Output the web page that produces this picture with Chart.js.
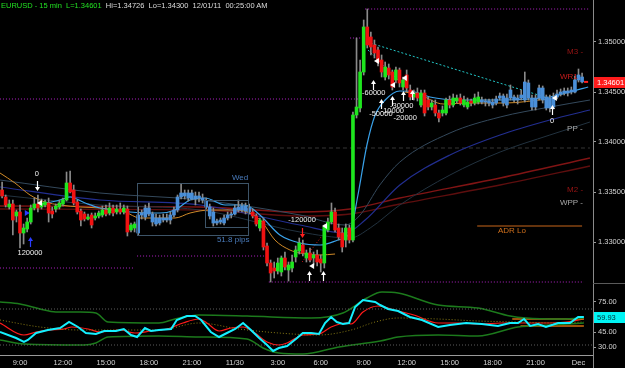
<!DOCTYPE html>
<html>
<head>
<meta charset="utf-8">
<script src="https://cdn.jsdelivr.net/npm/chart.js@4.4.0/dist/chart.umd.min.js"></script>
<style>
  html, body { margin: 0; padding: 0; background: #000; }
  #wrap { position: relative; width: 625px; height: 368px; background: #000; overflow: hidden; }
  #price { position: absolute; left: 0; top: 0; }
  #osc { position: absolute; left: 0; top: 283px; }
  #title { position: absolute; left: 1px; top: 1px; font: 7.5px "Liberation Sans", Arial, sans-serif; white-space: pre; color: #dcdcdc; }
  #title .sym { color: #22e022; }
</style>
</head>
<body>
<div id="wrap">
  <canvas id="price" width="625" height="283"></canvas>
  <canvas id="osc" width="625" height="85"></canvas>
  <div id="title"><span class="sym">EURUSD - 15 min  L=1.34601</span>  Hi=1.34726  Lo=1.34300  12/01/11  00:25:00 AM</div>
</div>
<script>
// 15 min bars, 29 Nov 07:30 -> 1 Dec 00:15 (index 0..163)
const opens = [
  1.3347,1.3352,1.3345,1.3335,1.3338,1.3326,1.3330,1.3309,1.3313,1.3320,
  1.3334,1.3338,1.3335,1.3337,1.3339,1.3331,1.3333,1.3335,1.3338,1.3342,
  1.3359,1.3352,1.3340,1.3331,1.3328,1.3323,1.3327,1.3324,1.3326,1.3327,
  1.3332,1.3329,1.3334,1.3330,1.3333,1.3330,1.3333,1.3312,1.3314,1.3309,
  1.3327,1.3325,1.3334,1.3328,1.3324,1.3319,1.3324,1.3322,1.3322,1.3327,
  1.3332,1.3345,1.3349,1.3344,1.3349,1.3343,1.3346,1.3344,1.3341,1.3335,
  1.3330,1.3319,1.3320,1.3319,1.3324,1.3327,1.3328,1.3332,1.3332,1.3336,
  1.3334,1.3330,1.3326,1.3314,1.3321,1.3296,1.3279,1.3274,1.3271,1.3270,
  1.3284,1.3272,1.3274,1.3285,1.3291,1.3297,1.3284,1.3289,1.3284,1.3287,
  1.3283,1.3279,1.3312,1.3320,1.3330,1.3314,1.3309,1.3302,1.3314,1.3302,
  1.3427,1.3434,1.3470,1.3515,1.3505,1.3497,1.3492,1.3482,1.3465,1.3474,
  1.3470,1.3462,1.3472,1.3455,1.3467,1.3452,1.3445,1.3449,1.3437,1.3449,
  1.3442,1.3435,1.3437,1.3429,1.3429,1.3429,1.3442,1.3437,1.3441,1.3444,
  1.3437,1.3435,1.3441,1.3439,1.3440,1.3442,1.3440,1.3441,1.3440,1.3439,
  1.3444,1.3446,1.3437,1.3444,1.3445,1.3442,1.3444,1.3442,1.3459,1.3444,
  1.3435,1.3444,1.3454,1.3445,1.3444,1.3435,1.3445,1.3448,1.3449,1.3449,
  1.3450,1.3450,1.3462,1.3465
];
const highs = [
  1.3356,1.3360,1.3347,1.3342,1.3342,1.3332,1.3337,1.3318,1.3324,1.3337,
  1.3344,1.3347,1.3343,1.3342,1.3344,1.3335,1.3338,1.3342,1.3344,1.3370,
  1.3371,1.3357,1.3342,1.3333,1.3330,1.3328,1.3329,1.3329,1.3331,1.3336,
  1.3337,1.3339,1.3337,1.3337,1.3339,1.3337,1.3336,1.3319,1.3320,1.3335,
  1.3332,1.3337,1.3339,1.3330,1.3328,1.3327,1.3328,1.3328,1.3330,1.3335,
  1.3347,1.3358,1.3352,1.3352,1.3352,1.3350,1.3350,1.3348,1.3344,1.3338,
  1.3334,1.3323,1.3324,1.3327,1.3330,1.3330,1.3337,1.3342,1.3339,1.3339,
  1.3338,1.3333,1.3328,1.3324,1.3324,1.3299,1.3282,1.3280,1.3284,1.3286,
  1.3290,1.3280,1.3287,1.3296,1.3304,1.3302,1.3292,1.3294,1.3290,1.3292,
  1.3287,1.3317,1.3324,1.3339,1.3334,1.3318,1.3314,1.3318,1.3317,1.3430,
  1.3504,1.3482,1.3522,1.3533,1.3510,1.3502,1.3495,1.3487,1.3480,1.3478,
  1.3472,1.3475,1.3474,1.3465,1.3472,1.3457,1.3452,1.3454,1.3452,1.3452,
  1.3445,1.3442,1.3442,1.3432,1.3436,1.3444,1.3446,1.3448,1.3447,1.3448,
  1.3446,1.3444,1.3443,1.3448,1.3450,1.3445,1.3443,1.3443,1.3443,1.3446,
  1.3449,1.3448,1.3448,1.3457,1.3447,1.3447,1.3452,1.3470,1.3462,1.3447,
  1.3447,1.3457,1.3456,1.3447,1.3447,1.3449,1.3452,1.3453,1.3454,1.3454,
  1.3455,1.3466,1.3473,1.3469
];
const lows = [
  1.3345,1.3344,1.3335,1.3333,1.3307,1.3320,1.3294,1.3298,1.3310,1.3318,
  1.3332,1.3330,1.3333,1.3335,1.3320,1.3324,1.3330,1.3333,1.3336,1.3341,
  1.3349,1.3337,1.3328,1.3316,1.3321,1.3322,1.3314,1.3322,1.3324,1.3325,
  1.3326,1.3327,1.3326,1.3328,1.3328,1.3328,1.3306,1.3310,1.3310,1.3307,
  1.3323,1.3322,1.3326,1.3316,1.3316,1.3317,1.3320,1.3320,1.3318,1.3325,
  1.3330,1.3343,1.3343,1.3341,1.3342,1.3337,1.3340,1.3339,1.3333,1.3323,
  1.3316,1.3317,1.3318,1.3317,1.3322,1.3324,1.3327,1.3330,1.3330,1.3328,
  1.3328,1.3324,1.3316,1.3311,1.3292,1.3276,1.3260,1.3264,1.3268,1.3266,
  1.3272,1.3261,1.3270,1.3280,1.3288,1.3286,1.3280,1.3280,1.3277,1.3276,
  1.3270,1.3274,1.3310,1.3318,1.3310,1.3302,1.3290,1.3295,1.3299,1.3300,
  1.3424,1.3430,1.3467,1.3494,1.3487,1.3484,1.3476,1.3465,1.3462,1.3463,
  1.3452,1.3459,1.3455,1.3452,1.3450,1.3442,1.3442,1.3441,1.3435,1.3426,
  1.3432,1.3432,1.3426,1.3420,1.3426,1.3427,1.3434,1.3435,1.3439,1.3437,
  1.3435,1.3433,1.3436,1.3437,1.3438,1.3438,1.3436,1.3436,1.3434,1.3437,
  1.3442,1.3436,1.3434,1.3442,1.3440,1.3438,1.3442,1.3440,1.3442,1.3432,
  1.3432,1.3442,1.3439,1.3432,1.3430,1.3433,1.3443,1.3446,1.3447,1.3446,
  1.3448,1.3449,1.3460,1.3459
];
const closes = [
  1.3352,1.3346,1.3337,1.3338,1.3322,1.3330,1.3309,1.3314,1.3320,1.3334,
  1.3338,1.3334,1.3339,1.3340,1.3329,1.3328,1.3336,1.3339,1.3342,1.3359,
  1.3350,1.3339,1.3330,1.3322,1.3323,1.3325,1.3317,1.3326,1.3329,1.3332,
  1.3328,1.3334,1.3329,1.3333,1.3330,1.3334,1.3310,1.3317,1.3318,1.3327,
  1.3329,1.3334,1.3328,1.3320,1.3318,1.3324,1.3322,1.3324,1.3327,1.3332,
  1.3345,1.3349,1.3346,1.3349,1.3343,1.3346,1.3344,1.3342,1.3335,1.3326,
  1.3319,1.3321,1.3322,1.3324,1.3327,1.3328,1.3334,1.3335,1.3336,1.3331,
  1.3330,1.3326,1.3318,1.3322,1.3295,1.3279,1.3269,1.3271,1.3279,1.3284,
  1.3275,1.3277,1.3280,1.3292,1.3299,1.3289,1.3289,1.3282,1.3287,1.3280,
  1.3279,1.3315,1.3320,1.3330,1.3312,1.3305,1.3295,1.3314,1.3302,1.3427,
  1.3435,1.3470,1.3515,1.3497,1.3495,1.3489,1.3480,1.3470,1.3475,1.3467,
  1.3455,1.3472,1.3459,1.3462,1.3454,1.3445,1.3449,1.3444,1.3449,1.3429,
  1.3435,1.3439,1.3429,1.3424,1.3432,1.3442,1.3437,1.3444,1.3444,1.3439,
  1.3442,1.3440,1.3439,1.3444,1.3445,1.3440,1.3441,1.3439,1.3437,1.3443,
  1.3446,1.3439,1.3444,1.3452,1.3442,1.3444,1.3447,1.3460,1.3444,1.3435,
  1.3444,1.3454,1.3442,1.3434,1.3434,1.3445,1.3448,1.3450,1.3451,1.3451,
  1.3452,1.3462,1.3467,1.34601
];
// bars painted in the session colour
const blueSessions = [[39, 70], [135, 163]];

const timeTicks = [6, 18, 30, 42, 54, 66, 78, 90, 102, 114, 126, 138, 150, 162];
const timeLabels = ['9:00', '12:00', '15:00', '18:00', '21:00', '11/30', '3:00', '6:00', '9:00', '12:00', '15:00', '18:00', '21:00', 'Dec'];
const priceTicks = [1.330, 1.335, 1.340, 1.345, 1.350];
const oscTicks = [30, 45, 60, 75];
const lastPrice = 1.34601;
const lastOsc = 59.93;

// moving averages [bar index, price]
const fastMA = [[10.7,1.3337],[17.2,1.3342],[20.0,1.3345],[24.2,1.3339],[28.3,1.3334],[36.7,1.3330],[45.1,1.3329],[49.3,1.3332],[53.5,1.3342],[57.7,1.3344],[63.3,1.3337],[68.8,1.3337],[73.0,1.3327],[78.6,1.3307],[84.2,1.3299],[89.8,1.3297],[94.8,1.3302],[98.2,1.3310],[100.4,1.3347],[102.9,1.3397],[105.2,1.3427],[108.0,1.3442],[112.1,1.3451],[116.3,1.3450],[120.5,1.3445],[128.9,1.3442],[140.1,1.3442],[148.5,1.3443],[154.0,1.3445],[159.6,1.3450],[164.7,1.3455]];
const orangeMA = [[0.4,1.3369],[4.6,1.3359],[8.8,1.3347],[13.0,1.3340],[17.2,1.3337],[22.8,1.3335],[28.3,1.3334],[35.3,1.3330],[39.5,1.3324],[49.3,1.3324],[53.5,1.3329],[59.1,1.3332],[66.0,1.3332],[70.2,1.3329],[73.6,1.3320],[77.2,1.3302],[81.4,1.3292],[84.2,1.3289],[89.8,1.3287],[94.0,1.3288],[104,null],[113.5,1.3450],[117.7,1.3447],[124.2,1.3438],[131.7,1.3439],[141.5,1.3439],[153.5,1.3443]];
const slateMA = [[0.4,1.3362],[28.3,1.3349],[56.3,1.3342],[84.2,1.3327],[96.8,1.3317],[101.0,1.3327],[106.5,1.3357],[112.1,1.3380],[126.1,1.3409],[140.1,1.3425],[154.0,1.3435],[165.2,1.3442]];
const navyMA = [[0.4,1.3355],[28.3,1.3342],[56.3,1.3337],[84.2,1.3317],[96.8,1.3309],[102.4,1.3322],[112.1,1.3357],[126.1,1.3387],[140.1,1.3407],[154.0,1.3422],[165.2,1.3432]];
const greyMA = [[0.4,1.3347],[28.3,1.3337],[56.3,1.3332],[84.2,1.3310],[98.2,1.3304],[103.8,1.3314],[112.1,1.3337],[126.1,1.3367],[140.1,1.3390],[154.0,1.3407],[165.2,1.3420]];
const redMA1 = [[0.4,1.3336],[56.3,1.3335],[84.2,1.3330],[98.2,1.3333],[112.1,1.3344],[140.1,1.3364],[165.2,1.3384]];
const redMA2 = [[0.4,1.3333],[56.3,1.3332],[84.2,1.3326],[98.2,1.3328],[112.1,1.3338],[140.1,1.3357],[165.2,1.3376]];

// levels [from index, to index, price]
const purpleLevels = [[0.4,38.1,1.3274],[38.7,74.4,1.3286],[75.5,163.5,1.3260],[0.4,101.0,1.3443],[102.4,165.2,1.3533],[98.2,101.5,1.3504]];
const ppLevel = [0.4, 165.2, 1.3394];
const adrLevel = [133.7, 163.0, 1.3316];
// trend lines [i0, p0, i1, p1]
const cyanTrends = [[102.9,1.3500,153.5,1.3444],[103.2,1.3492,112.1,1.3460]];
const redTrends = [[84.8,1.3280,92.0,1.3314]];
// session boxes [i0, top price, i1, bottom price]
const sessionBoxes = [[38.7,1.3359,69.7,1.3307],[57.7,1.3342,69.7,1.3315]];

// annotations [index, price, text]
const tradeNotes = [[10.7,1.3368,'0'],[8.8,1.3289,'120000'],[84.8,1.3322,'-120000'],[104.8,1.3449,'-60000'],[106.8,1.3428,'-50000'],[112.6,1.3436,'-30000'],[110.0,1.3431,'-10000'],[113.6,1.3424,'-20000'],[154.6,1.3421,'0']];
const boxNotes = [[65.2,1.3364,'Wed'],[61.0,1.3302,'51.8 pips']];
const redPivots = [[158.8,1.3490,'M3 -'],[156.8,1.3465,'WR1'],[158.8,1.3352,'M2 -']];
const greyPivots = [[158.8,1.3413,'PP -'],[156.8,1.3339,'WPP -']];
const adrNote = [[139.5,1.3311,'ADR Lo']];
const upArrows = [[86.7,1.3266],[90.6,1.3266],[104.6,1.3457],[106.8,1.3438],[109.9,1.3441],[113.0,1.3446],[115.5,1.3447],[154.6,1.3432]];
const downArrows = [[10.7,1.3356]];
const blueUpArrows = [[8.8,1.3300]];
const redDownArrows = [[84.8,1.3309]];
const leftMarks = [[11.6,1.3339],[87.6,1.3276],[91.2,1.3316],[105.7,1.3481],[110.2,1.3457],[113.5,1.3464],[155.4,1.3444]];
const rightMarks = [[7.9,1.3329]];

// oscillator [bar index, value]
const cyanOsc = [[0.4,45],[4.9,39],[7.1,35],[8.2,37],[10.5,44],[13.8,47],[17.2,49],[19.7,55],[22.2,50],[24.4,44],[27.2,43],[29.5,46],[32.8,46],[35.0,48],[37.0,42],[38.7,40],[40.9,49],[42.6,46],[44.8,47],[48.2,48],[49.8,57],[52.6,61],[54.9,61],[56.6,57],[59.3,45],[61.6,40],[63.8,44],[66.1,48],[68.3,54],[70.5,47],[72.8,39],[75.0,32],[76.7,26],[78.3,29],[80.6,31],[83.4,39],[85.0,44],[87.3,44],[89.5,43],[91.2,54],[92.9,60],[94.5,55],[96.2,53],[97.9,54],[99.6,70],[101.8,77],[105.2,75],[106.6,72],[108.8,68],[111.6,66],[114.9,60],[118.3,57],[122.8,50],[126.1,52],[130.6,54],[135.0,53],[139.5,51],[142.9,54],[145.1,54],[146.8,58],[148.5,51],[150.7,53],[152.9,50],[156.3,54],[159.6,54],[161.9,60],[163.5,59.93]];
const redOsc = [[0.4,54],[7.1,42],[10.5,45],[13.8,47],[18.3,48],[20.5,50],[25.0,48],[28.3,45],[33.9,47],[38.1,44],[42.6,46],[47.1,48],[51.5,54],[56.0,58],[58.2,54],[61.6,46],[64.9,49],[68.3,50],[71.6,44],[75.0,35],[78.3,32],[80.6,34],[85.0,42],[89.5,43],[92.9,50],[97.3,54],[98.5,53],[101.8,65],[106.0,71],[110.5,67],[116.0,62],[122.8,54],[128.3,54],[133.9,53],[140.6,54],[147.3,54],[154.0,54],[158.5,55],[163.5,58]];
const signalOsc = [[0.4,57],[11.6,50],[22.8,47],[33.9,47],[44.8,47],[56.0,54],[67.2,48],[78.3,44],[89.5,42],[98.5,47],[105.2,55],[111.6,59],[122.8,58],[133.9,56],[145.1,55],[156.3,54],[163.5,55]];
const bandUpper = [[0.4,75],[6.0,73],[11.6,68],[16.0,65],[22.8,65],[27.2,64],[30.6,55],[44.8,54],[49.3,58],[56.0,62],[69.4,61],[87.3,59],[96.2,64],[102.9,79],[107.1,85],[111.6,84],[122.8,72],[133.9,69],[142.9,61],[147.3,59],[156.3,58],[163.5,59]];
const bandLower = [[0.4,37],[7.1,33],[23.9,32],[27.2,34],[30.6,40],[44.8,41],[56.0,40],[69.4,38],[73.9,29],[78.3,24],[85.0,23],[95.1,30],[106.6,36],[111.6,40],[122.8,42],[133.9,41],[145.1,50],[154.0,52],[163.5,54]];
const oscOrangeLevels = [[143.5,163.5,58],[145.8,163.5,51]];
const oscGuides = [68, 32];

const FONT = '"Liberation Sans", Arial, sans-serif';
const xMin = 0.413, xMax = 166.05;

const idx = closes.map((_, i) => i);
const inSession = i => blueSessions.some(([a, b]) => i >= a && i <= b);
const candleColors = idx.map(i => inSession(i) ? '#4a8fd8' : (closes[i] >= opens[i] ? '#1ee61e' : '#f01212'));

function lineSet(points, color, width, dash, smooth) {
  return {
    type: 'line',
    data: points.map(p => ({ x: p[0], y: p[1] })),
    borderColor: color,
    borderWidth: width,
    borderDash: dash || [],
    pointRadius: 0,
    fill: false,
    spanGaps: false,
    cubicInterpolationMode: smooth ? 'monotone' : 'default',
    tension: 0,
    order: 5
  };
}
function levelSet(lv, color, width, dash) {
  return lineSet([[lv[0], lv[2]], [lv[1], lv[2]]], color, width, dash, false);
}
function trendSet(t, color, dash) {
  return lineSet([[t[0], t[1]], [t[2], t[3]]], color, 1, dash, false);
}

function rightAxisFit(s) {
  s.width = 32;
  s.paddingTop = 0;
  s.paddingBottom = 0;
}

function drawArrow(ctx, x, y, dir, color) {
  ctx.strokeStyle = color;
  ctx.fillStyle = color;
  ctx.lineWidth = 1.2;
  ctx.beginPath();
  ctx.moveTo(x, y - 5 * dir);
  ctx.lineTo(x, y + 2 * dir);
  ctx.stroke();
  ctx.beginPath();
  ctx.moveTo(x, y + 5 * dir);
  ctx.lineTo(x - 2.5, y + 1 * dir);
  ctx.lineTo(x + 2.5, y + 1 * dir);
  ctx.closePath();
  ctx.fill();
}
function drawTri(ctx, x, y, dir, color) {
  ctx.fillStyle = color;
  ctx.beginPath();
  ctx.moveTo(x + 3 * dir, y);
  ctx.lineTo(x - 2 * dir, y - 3);
  ctx.lineTo(x - 2 * dir, y + 3);
  ctx.closePath();
  ctx.fill();
}

const priceNotes = {
  id: 'priceNotes',
  afterDatasetsDraw(chart) {
    const { ctx, scales: { x, y } } = chart;
    const X = v => x.getPixelForValue(v);
    const Y = v => y.getPixelForValue(v);
    ctx.save();
    ctx.strokeStyle = '#3d5468';
    ctx.lineWidth = 1;
    sessionBoxes.forEach(b => {
      const x0 = Math.round(X(b[0])) + 0.5, y0 = Math.round(Y(b[1])) + 0.5;
      ctx.strokeRect(x0, y0, Math.round(X(b[2]) - X(b[0])), Math.round(Y(b[3]) - Y(b[1])));
    });

    ctx.textBaseline = 'middle';
    ctx.font = '8px ' + FONT;
    ctx.textAlign = 'left';
    ctx.fillStyle = '#4a7cbc';
    boxNotes.forEach(n => ctx.fillText(n[2], X(n[0]), Y(n[1])));

    ctx.font = '7.5px ' + FONT;
    ctx.textAlign = 'center';
    ctx.fillStyle = '#f0f0f0';
    tradeNotes.forEach(n => ctx.fillText(n[2], X(n[0]), Y(n[1])));

    ctx.textAlign = 'left';
    ctx.font = '8px ' + FONT;
    redPivots.forEach(n => { ctx.fillStyle = n[2] === 'WR1' ? '#c81c1c' : '#9a1414'; ctx.fillText(n[2], X(n[0]), Y(n[1])); });
    ctx.fillStyle = '#a8a8a8';
    greyPivots.forEach(n => ctx.fillText(n[2], X(n[0]), Y(n[1])));
    ctx.fillStyle = '#d0701c';
    adrNote.forEach(n => ctx.fillText(n[2], X(n[0]), Y(n[1])));

    upArrows.forEach(a => drawArrow(ctx, Math.round(X(a[0])) + 0.5, Y(a[1]), -1, '#ffffff'));
    downArrows.forEach(a => drawArrow(ctx, Math.round(X(a[0])) + 0.5, Y(a[1]), 1, '#ffffff'));
    blueUpArrows.forEach(a => drawArrow(ctx, Math.round(X(a[0])) + 0.5, Y(a[1]), -1, '#2a3cff'));
    redDownArrows.forEach(a => drawArrow(ctx, Math.round(X(a[0])) + 0.5, Y(a[1]), 1, '#ff2020'));
    leftMarks.forEach(m => drawTri(ctx, X(m[0]), Y(m[1]), -1, '#ffffff'));
    rightMarks.forEach(m => drawTri(ctx, X(m[0]), Y(m[1]), 1, '#2a3cff'));

    // current price dash next to the last bar
    ctx.fillStyle = '#ff2020';
    ctx.fillRect(X(idx.length - 1) + 2, Y(lastPrice) - 1, 4, 2);
    ctx.restore();
  },
  afterDraw(chart) {
    const { ctx, chartArea, scales: { y } } = chart;
    const py = Math.round(y.getPixelForValue(lastPrice));
    ctx.save();
    ctx.fillStyle = '#ff1c1c';
    ctx.fillRect(chartArea.right + 1, py - 5, 32, 11);
    ctx.fillStyle = '#ffffff';
    ctx.font = '7.5px ' + FONT;
    ctx.textBaseline = 'middle';
    ctx.fillText(lastPrice.toFixed(5), chartArea.right + 4, py + 0.5);
    ctx.restore();
  }
};

const oscNotes = {
  id: 'oscNotes',
  afterDraw(chart) {
    const { ctx, chartArea, scales: { y } } = chart;
    const py = Math.round(y.getPixelForValue(lastOsc));
    ctx.save();
    ctx.fillStyle = '#5a5a5a';
    ctx.fillRect(chartArea.right, 0, 32, 1);
    ctx.fillStyle = '#8a8a8a';
    ctx.fillRect(chartArea.right, chartArea.bottom, 1, chart.height - chartArea.bottom);
    ctx.fillStyle = '#00f4f4';
    ctx.fillRect(chartArea.right + 1, py - 5, 32, 11);
    ctx.fillStyle = '#06303a';
    ctx.font = '7.5px ' + FONT;
    ctx.textBaseline = 'middle';
    ctx.fillText(lastOsc.toFixed(2), chartArea.right + 4, py + 0.5);
    ctx.restore();
  }
};

const axisTicks = { color: '#d4d4d4', font: { family: FONT, size: 7.5 }, padding: 2, autoSkip: false };
const axisGrid = { display: true, drawOnChartArea: false, drawTicks: true, tickLength: 3, color: '#9a9a9a' };

new Chart(document.getElementById('price'), {
  type: 'bar',
  data: {
    datasets: [
      {
        type: 'bar',
        data: idx.map(i => ({ x: i, y: [opens[i], closes[i]] })),
        backgroundColor: candleColors,
        barThickness: 3,
        minBarLength: 1,
        grouped: false,
        borderWidth: 0,
        order: 1
      },
      {
        type: 'bar',
        data: idx.map(i => ({ x: i, y: [lows[i], highs[i]] })),
        backgroundColor: '#8a8a8a',
        barThickness: 1,
        grouped: false,
        borderWidth: 0,
        order: 2
      },
      lineSet(fastMA, '#3aa2ea', 1.2, null, true),
      lineSet(orangeMA, '#d08a28', 1, null, true),
      lineSet(slateMA, '#34495c', 1, null, true),
      lineSet(navyMA, '#222e90', 1.2, null, true),
      lineSet(greyMA, '#22323f', 1, null, true),
      lineSet(redMA1, '#801414', 1.3, null, true),
      lineSet(redMA2, '#5e0e0e', 1.3, null, true),
      ...purpleLevels.map(l => levelSet(l, '#b021c4', 1, [1, 2])),
      levelSet(ppLevel, '#363636', 1, [4, 3]),
      levelSet(adrLevel, '#c8661a', 1, null),
      ...cyanTrends.map(t => trendSet(t, '#22c8c8', [2, 2])),
      ...redTrends.map(t => trendSet(t, '#d81818', [1, 2]))
    ]
  },
  options: {
    responsive: false,
    animation: false,
    events: [],
    layout: { padding: 0 },
    plugins: { legend: { display: false }, tooltip: { enabled: false } },
    scales: {
      x: { type: 'linear', min: xMin, max: xMax, offset: false, display: false },
      y: {
        type: 'linear',
        position: 'right',
        min: 1.3259,
        max: 1.3542,
        afterBuildTicks: s => { s.ticks = priceTicks.map(v => ({ value: v })); },
        afterFit: rightAxisFit,
        ticks: Object.assign({}, axisTicks, { callback: v => v.toFixed(5) }),
        grid: axisGrid,
        border: { display: true, color: '#8a8a8a' }
      }
    }
  },
  plugins: [priceNotes]
});

new Chart(document.getElementById('osc'), {
  type: 'line',
  data: {
    datasets: [
      ...oscGuides.map(g => levelSet([xMin, xMax, g], '#5c5c5c', 1, [1, 2])),
      lineSet(bandUpper, '#1c7a1c', 1.5, null, true),
      lineSet(bandLower, '#1c7a1c', 1.5, null, true),
      ...oscOrangeLevels.map(l => levelSet(l, '#d06a10', 1.5, null)),
      lineSet(signalOsc, '#8a7c14', 1, [1, 2], true),
      lineSet(redOsc, '#ff1a1a', 1.2, null, true),
      Object.assign(lineSet(cyanOsc, '#14f0ff', 2, null, false), { order: 1 })
    ]
  },
  options: {
    responsive: false,
    animation: false,
    events: [],
    layout: { padding: 0 },
    plugins: { legend: { display: false }, tooltip: { enabled: false } },
    scales: {
      x: {
        type: 'linear',
        min: xMin,
        max: xMax,
        offset: false,
        afterBuildTicks: s => { s.ticks = timeTicks.map(v => ({ value: v })); },
        afterFit: s => { s.height = 13; s.paddingLeft = 0; s.paddingRight = 0; },
        ticks: Object.assign({}, axisTicks, { maxRotation: 0, padding: 3, callback: (v, i) => timeLabels[i] }),
        grid: { display: false, drawTicks: false, tickLength: 0 },
        border: { display: true, color: '#9a9a9a' }
      },
      y: {
        type: 'linear',
        position: 'right',
        min: 22,
        max: 94,
        afterBuildTicks: s => { s.ticks = oscTicks.map(v => ({ value: v })); },
        afterFit: rightAxisFit,
        ticks: Object.assign({}, axisTicks, { callback: v => v.toFixed(2) }),
        grid: axisGrid,
        border: { display: true, color: '#8a8a8a' }
      }
    }
  },
  plugins: [oscNotes]
});
</script>
</body>
</html>
